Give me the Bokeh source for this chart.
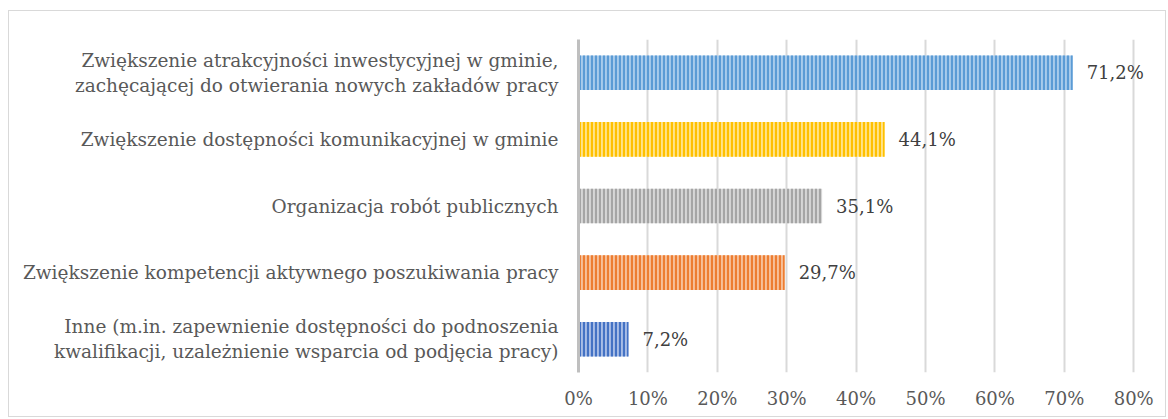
from bokeh.plotting import figure
from bokeh.models import ColumnDataSource, FactorRange, FixedTicker, PrintfTickFormatter
from bokeh.core.properties import value
from bokeh.embed import file_html
from bokeh.resources import INLINE

categories = [
    "Zwiększenie atrakcyjności inwestycyjnej w gminie,\nzachęcającej do otwierania nowych zakładów pracy",
    "Zwiększenie dostępności komunikacyjnej w gminie",
    "Organizacja robót publicznych",
    "Zwiększenie kompetencji aktywnego poszukiwania pracy",
    "Inne (m.in. zapewnienie dostępności do podnoszenia\nkwalifikacji, uzależnienie wsparcia od podjęcia pracy)",
]
values = [71.2, 44.1, 35.1, 29.7, 7.2]
labels = ["71,2%", "44,1%", "35,1%", "29,7%", "7,2%"]
fill_colors = ["#a9cbeb", "#ffe38a", "#d6d6d6", "#f6c09a", "#a8bde6"]
hatch_colors = ["#5b9bd5", "#ffc000", "#a5a5a5", "#ed7d31", "#4472c4"]
x_ticks = [0, 10, 20, 30, 40, 50, 60, 70, 80]

FONT = "DejaVu Serif"

src = ColumnDataSource(dict(cat=categories, val=values, lab=labels,
                            fc=fill_colors, hc=hatch_colors))

p = figure(
    width=1158, height=407,
    y_range=FactorRange(*categories[::-1]),
    x_range=(0, 84),
    output_backend="svg", toolbar_location=None,
    min_border_left=569, min_border_right=6,
    min_border_top=28, min_border_bottom=46,
)
p.styles = {"border": "1px solid #d9d9d9", "margin-left": "8px", "margin-top": "10px"}
p.outline_line_color = None
p.background_fill_color = "white"

p.hbar(y="cat", right="val", left=0, height=0.52, source=src,
       fill_color="fc", line_color=None,
       hatch_pattern="vertical_line", hatch_color="hc",
       hatch_scale=4, hatch_weight=2.2)

p.text(x="val", y="cat", text="lab", source=src, x_offset=14,
       text_baseline="middle", text_align="left",
       text_font=value(FONT), text_font_size="18px", text_color="#404040")

# x axis
p.xaxis.ticker = FixedTicker(ticks=x_ticks)
p.xaxis.formatter = PrintfTickFormatter(format="%d%%")
p.xaxis.axis_line_color = None
p.xaxis.major_tick_line_color = None
p.xaxis.minor_tick_line_color = None
p.xaxis.major_label_text_font = FONT
p.xaxis.major_label_text_font_size = "18px"
p.xaxis.major_label_text_color = "#595959"
p.xaxis.major_label_standoff = 9

# y axis
p.yaxis.axis_line_color = "#bfbfbf"
p.yaxis.axis_line_width = 3
p.yaxis.major_tick_line_color = None
p.yaxis.minor_tick_line_color = None
p.yaxis.major_label_text_font = FONT
p.yaxis.major_label_text_font_size = "18.5px"
p.yaxis.major_label_text_color = "#595959"
p.yaxis.major_label_standoff = 14

p.xgrid.ticker = FixedTicker(ticks=x_ticks)
p.xgrid.grid_line_color = "#d9d9d9"
p.xgrid.grid_line_width = 2
p.ygrid.grid_line_color = None

open("out.html", "w").write(file_html(p, INLINE))
